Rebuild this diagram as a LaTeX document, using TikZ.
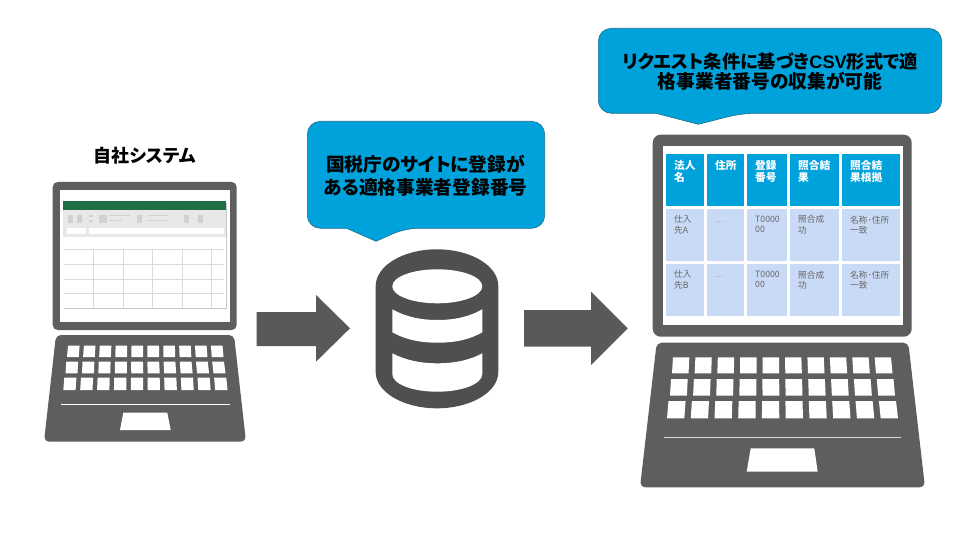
\documentclass[tikz,border=0pt]{standalone}
\usepackage{fontspec}
\setmainfont{Liberation Sans}
\newfontfamily\cjk[RawFeature=+palt]{Noto Sans CJK JP}
\usetikzlibrary{calc}
\definecolor{darkgrey}{HTML}{5E5E5E}
\definecolor{dbgrey}{HTML}{4F4F4F}
\definecolor{calloutblue}{HTML}{00A2DB}
\definecolor{calloutline}{HTML}{1F6E8C}
\definecolor{cellblue}{HTML}{C9DAF6}
\definecolor{sheetgreen}{HTML}{1F6F46}

% one row of ten keys: top left, top right, bottom left, bottom right, top y, bottom y
\newcommand{\keyrow}[6]{
  \foreach \k in {0,...,9} {
    \pgfmathsetmacro{\fa}{\k/9.73}
    \pgfmathsetmacro{\fb}{(\k+0.73)/9.73}
    \fill[white] ({#1+\fa*(#2-#1)},#5) -- ({#1+\fb*(#2-#1)},#5)
      -- ({#3+\fb*(#4-#3)},#6) -- ({#3+\fa*(#4-#3)},#6) -- cycle;
  }
}
\newcommand{\nodots}{\vphantom{仕}\textcolor{black!35}{…}}

\begin{document}
\begin{tikzpicture}[
    x=1pt, y=-1pt,
    solid/.style={fill=darkgrey, rounded corners=5pt},
    blockarrow/.style={fill=darkgrey!95!black},
    callout/.style={fill=calloutblue, draw=calloutline, line width=0.6pt, rounded corners=13pt},
    bubbletext/.style={font=\cjk\bfseries\fontsize{18.7}{22.5}\selectfont, align=center, inner sep=0pt},
    headcell/.style={fill=calloutblue, anchor=north west, inner sep=0pt, minimum height=52pt},
    bodycell/.style={fill=cellblue, anchor=north west, inner sep=0pt, minimum height=51.5pt},
    headtext/.style={font=\cjk\bfseries\fontsize{10.7}{12.5}\selectfont, text=white, align=left, anchor=north west, inner sep=0pt},
    bodytext/.style={font=\cjk\fontsize{8.7}{10.8}\selectfont, text=black!60, align=left, anchor=north west, inner sep=0pt},
    ribbon/.style={fill=black!18},
    gridline/.style={draw=black!14, line width=0.7pt}
  ]
    \useasboundingbox (0,0) rectangle (960,540);

    % Left laptop
    \begin{scope}
      \fill[solid] (52.7,182) rectangle (236.7,330);
      \fill[white] (60,190) rectangle (230,321.7);
      \fill[solid] (56,335) -- (234,335) -- (246,441.7) -- (44,441.7) -- cycle;
      \keyrow{68}{222.5}{67}{223.5}{345.7}{357}
      \keyrow{66.3}{224}{65.5}{225.5}{361.7}{373.3}
      \keyrow{64.3}{226.3}{63.3}{227.5}{377.7}{390}
      \draw[white, line width=0.8pt] (60.7,404.7) -- (230,404.7);
      \fill[white] (123.3,412.7) -- (167.3,412.7) -- (170.7,430) -- (120,430) -- cycle;

      % Spreadsheet
      \fill[black!22] (64,203) rectangle (226.6,309);
      \fill[white] (63.3,200.7) rectangle (226,307.7);
      \fill[sheetgreen] (63.3,200.7) rectangle (226,210);
      \fill[black!9] (63.3,210) rectangle (226,237);
      \fill[white] (67.3,227.7) rectangle (85.7,234.3);
      \fill[white] (89.3,227.7) rectangle (224,234.3);
      \foreach \xa/\xb in {67.7/73.3, 76.7/82.3, 99/107, 136.7/141.7, 184/189.3, 198.3/203.3}
        \fill[ribbon] (\xa,215) rectangle (\xb,223.3);
      \fill[ribbon] (89.3,215) rectangle (93.3,216.7);
      \fill[ribbon] (89.3,220) rectangle (93.3,221.7);
      \fill[ribbon] (109.3,215) rectangle (130,216);
      \fill[ribbon] (109.3,220) rectangle (121.7,221);
      \fill[ribbon] (147.7,215) rectangle (168.3,216);
      \fill[ribbon] (147.7,220) rectangle (168.3,221);
      \foreach \gy in {249.3,264.3,279,293.7}
        \draw[gridline] (64.3,\gy) -- (224,\gy);
      \foreach \gx in {93.7,123,152.3,182,211.7}
        \draw[gridline] (\gx,249.3) -- (\gx,307.7);
    \end{scope}

    \node[font=\cjk\bfseries\fontsize{18}{20}\selectfont, inner sep=0pt] (ownsystem) at (145,156) {自社システム};

    % Block arrows
    \fill[blockarrow] (256.7,312) -- (316,312) -- (316,295) -- (350,328.3)
      -- (316,361.7) -- (316,346) -- (256.7,346) -- cycle;
    \fill[blockarrow] (524,310) -- (591,310) -- (591,291.7) -- (627.7,328.3)
      -- (591,365) -- (591,346.7) -- (524,346.7) -- cycle;

    % Database
    \fill[dbgrey] (375.7,286) arc[start angle=180, end angle=0, x radius=61.3pt, y radius=36.7pt]
      -- (498.3,372) arc[start angle=0, end angle=-180, x radius=61.3pt, y radius=36.3pt] -- cycle;
    \fill[white] (437.3,286.3) ellipse[x radius=45pt, y radius=17pt];
    \fill[white] (392.3,309.3) .. controls (405,316.5) and (420,320) .. (437.3,320)
      .. controls (455,320) and (470,316.5) .. (482.3,309.3) -- (482.3,332.3)
      .. controls (470,339.5) and (455,342.7) .. (437.3,342.7)
      .. controls (420,342.7) and (405,339.5) .. (392.3,332.3) -- cycle;
    \fill[white] (392.3,353.3) .. controls (405,360) and (420,363.3) .. (437.3,363.3)
      .. controls (455,363.3) and (470,360) .. (482.3,353.3) -- (482.3,374)
      .. controls (482.3,384) and (462,391.7) .. (437.3,391.7)
      .. controls (412,391.7) and (392.3,384) .. (392.3,374) -- cycle;

    % Middle callout
    \draw[callout] (307.3,121.3) -- (544.7,121.3) -- (544.7,228.3) -- (405,228.3)
      [sharp corners] -- (376,241.3) -- (346.7,228.3) [rounded corners=13pt] -- (307.3,228.3) -- cycle;
    \node[bubbletext] (sitelabel) at (425.5,175.5) {国税庁のサイトに登録が\\ある適格事業者登録番号};

    % Right laptop
    \begin{scope}
      \fill[solid, rounded corners=8pt] (652.7,134.7) rectangle (911.7,336.7);
      \fill[white] (662.7,146) rectangle (903.3,325.3);
      \fill[solid] (656.7,342.7) -- (908.3,342.7) -- (925,487.3) -- (640,487.3) -- cycle;
      \keyrow{673}{891}{672}{892.5}{357.3}{373.3}
      \keyrow{671}{893.5}{670}{895}{379}{395.7}
      \keyrow{668.5}{896}{667}{898}{401}{418.3}
      \draw[white!85!black, line width=1.2pt] (664,437.7) -- (901,437.7);
      \fill[white] (750.7,448.3) -- (814.3,448.3) -- (817.7,471.7) -- (746.7,471.7) -- cycle;
    \end{scope}

    % Table
    \foreach \col/\cx/\cw/\head/\rowa/\rowb in {
      a/666/38/{法人\\名}/{仕入\\先A}/{仕入\\先B},
      b/707/37/{住所}/{\nodots}/{\nodots},
      c/747/40/{登録\\番号}/{T0000\\00}/{T0000\\00},
      d/790/49/{照合結\\果}/{照合成\\功}/{照合成\\功},
      e/842/58/{照合結\\果根拠}/{名称･住所\\一致}/{名称･住所\\一致}} {
      \node[headcell, minimum width=\cw pt] (head\col) at (\cx,154) {};
      \node[bodycell, minimum width=\cw pt] (upper\col) at (\cx,209) {};
      \node[bodycell, minimum width=\cw pt] (lower\col) at (\cx,264) {};
      \node[headtext] (headtext\col) at ([xshift=8pt,yshift=-6pt]head\col.north west) {\head};
      \node[bodytext] (uppertext\col) at ([xshift=8pt,yshift=-6.5pt]upper\col.north west) {\rowa};
      \node[bodytext] (lowertext\col) at ([xshift=8pt,yshift=-6.5pt]lower\col.north west) {\rowb};
    }

    % Top callout
    \draw[callout] (598.3,28.3) -- (941.7,28.3) -- (941.7,113.3) -- (741.7,113.3)
      [sharp corners] -- (698.3,124.3) -- (656,113.3) [rounded corners=13pt] -- (598.3,113.3) -- cycle;
    \node[bubbletext, font=\cjk\bfseries\fontsize{18.7}{20}\selectfont] (csvlabel) at (770,71.5) {{\fontsize{18.2}{20}\selectfont リクエスト条件に基づき{\fontspec{Liberation Sans}\bfseries CSV}形式で適}\\格事業者番号の収集が可能};
  \end{tikzpicture}
\end{document}
